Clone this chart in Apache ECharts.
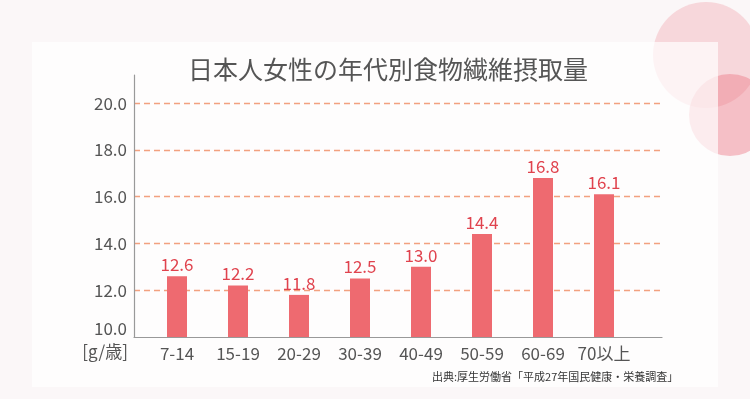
<!DOCTYPE html>
<html>
<head>
<meta charset="utf-8">
<script src="https://cdn.jsdelivr.net/npm/echarts@6/dist/echarts.min.js"></script>
<style>
html, body { margin: 0; padding: 0; }
#main { width: 750px; height: 399px; }
</style>
</head>
<body>
<div id="main"></div>
<script>
// 年代別 食物繊維摂取量（女性）
var ageGroups = ['7-14', '15-19', '20-29', '30-39', '40-49', '50-59', '60-69', '70以上'];
var intake = [12.6, 12.2, 11.8, 12.5, 13.0, 14.4, 16.8, 16.1];
var yMin = 10;
var yMax = 21.2;
var yStep = 2;

var font = '"Noto Sans CJK JP", "Noto Sans", sans-serif';
var myChart = echarts.init(document.getElementById('main'));

var option = {
    backgroundColor: '#fbf7f8',
    title: {
        text: '日本人女性の年代別食物繊維摂取量',
        left: 183,
        top: 52,
        textStyle: {
            color: '#555',
            fontSize: 25,
            fontWeight: 'normal',
            fontFamily: font
        }
    },
    graphic: [
        // 背景の丸
        { type: 'circle', z: -10, shape: { cx: 706, cy: 55, r: 53 }, style: { fill: 'rgba(240,150,160,0.32)' } },
        { type: 'circle', z: -10, shape: { cx: 730, cy: 115, r: 41 }, style: { fill: 'rgba(236,115,128,0.42)' } },
        // カード
        { type: 'rect', z: -5, shape: { x: 32, y: 42, width: 686, height: 345 }, style: { fill: 'rgba(255,255,255,0.7)' } },
        {
            type: 'text', z: 5, right: 750 - 128, top: 343,
            style: { text: '[g/歳]', fill: '#555', font: '17px ' + font, textAlign: 'right' }
        },
        {
            type: 'text', z: 5, left: 432, top: 371,
            style: { text: '出典:厚生労働省「平成27年国民健康・栄養調査」', fill: '#333', font: '11px ' + font }
        }
    ],
    grid: [
        { left: 134, right: 88, top: 75, bottom: 62 },
        { left: 146.5, right: 115.5, top: 75, bottom: 62 }
    ],
    xAxis: [
        {
            gridIndex: 0, type: 'value', min: 0, max: 1,
            axisLine: { show: true, onZero: false, lineStyle: { color: '#999', width: 1.2 } },
            axisTick: { show: false }, axisLabel: { show: false }, splitLine: { show: false }
        },
        {
            gridIndex: 1, type: 'category', data: ageGroups,
            axisLine: { show: false }, axisTick: { show: false },
            axisLabel: { color: '#555', fontSize: 17, fontFamily: font, margin: 8, interval: 0 }
        }
    ],
    yAxis: [
        {
            gridIndex: 0, type: 'value', min: yMin, max: yMax, interval: yStep,
            axisLine: { show: true, lineStyle: { color: '#999', width: 1.2 } },
            axisTick: { show: false },
            axisLabel: {
                color: '#555', fontSize: 17, fontFamily: font, margin: 7,
                showMaxLabel: false,
                formatter: function (v) {
                    return v === yMin ? '{low|' + v.toFixed(1) + '}' : v.toFixed(1);
                },
                rich: {
                    low: { color: '#555', fontSize: 17, fontFamily: font, padding: [0, 0, 16, 0] }
                }
            },
            splitLine: {
                show: true, showMinLine: false, showMaxLine: false,
                lineStyle: { color: '#f2a17f', type: [6, 4], width: 1.3 }
            }
        },
        {
            gridIndex: 1, type: 'value', min: yMin, max: yMax, interval: yStep,
            show: false
        }
    ],
    series: [
        {
            type: 'bar',
            xAxisIndex: 1,
            yAxisIndex: 1,
            data: intake,
            barWidth: 20,
            itemStyle: { color: '#ee6a70' },
            label: {
                show: true,
                position: 'top',
                distance: 3,
                color: '#e0434e',
                fontSize: 17,
                fontWeight: 'normal',
                fontFamily: font,
                formatter: function (p) { return p.value.toFixed(1); }
            }
        }
    ]
};
myChart.setOption(option);
window.onresize = myChart.resize;
</script>
</body>
</html>
